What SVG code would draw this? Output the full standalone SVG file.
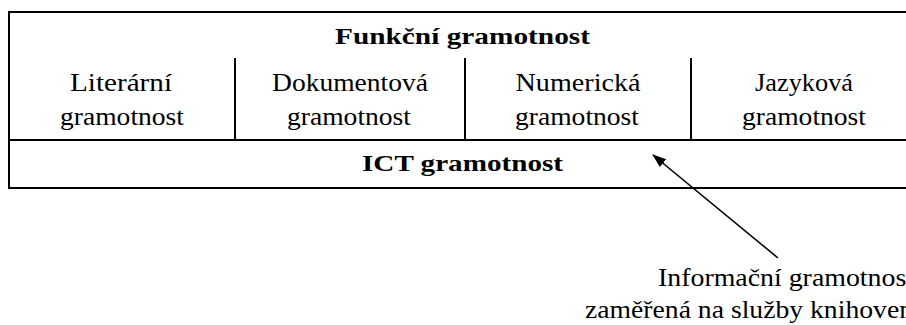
<svg xmlns="http://www.w3.org/2000/svg" width="906" height="325" viewBox="0 0 906 325">
<style>
.t{font-size:26px;fill:#000}
.b{font-size:24px;font-weight:bold;fill:#000}
.ln{stroke:#000;stroke-width:2;fill:none}
</style>
<defs>
<marker id="ah" markerWidth="14" markerHeight="10" refX="13" refY="5" orient="auto" markerUnits="userSpaceOnUse">
<path d="M0,0 L14,5 L0,10 Z" fill="#000"/>
</marker>
</defs>
<g font-family="Liberation Serif, Times New Roman, Times, DejaVu Serif, serif">
<g id="funkcni">
<rect class="ln" x="9" y="12" width="908" height="176"/>
<text class="b" x="462.5" y="44" text-anchor="middle" textLength="255" lengthAdjust="spacingAndGlyphs">Funkční gramotnost</text>
</g>
<g id="literarni">
<line class="ln" x1="235" y1="58" x2="235" y2="140"/>
<text class="t" x="121" y="91" text-anchor="middle" textLength="102" lengthAdjust="spacingAndGlyphs">Literární</text>
<text class="t" x="122" y="125" text-anchor="middle" textLength="124" lengthAdjust="spacingAndGlyphs">gramotnost</text>
</g>
<g id="dokumentova">
<line class="ln" x1="465" y1="58" x2="465" y2="140"/>
<text class="t" x="350" y="91" text-anchor="middle" textLength="156" lengthAdjust="spacingAndGlyphs">Dokumentová</text>
<text class="t" x="349" y="125" text-anchor="middle" textLength="124" lengthAdjust="spacingAndGlyphs">gramotnost</text>
</g>
<g id="numericka">
<line class="ln" x1="691" y1="58" x2="691" y2="140"/>
<text class="t" x="578" y="91" text-anchor="middle" textLength="125" lengthAdjust="spacingAndGlyphs">Numerická</text>
<text class="t" x="577" y="125" text-anchor="middle" textLength="124" lengthAdjust="spacingAndGlyphs">gramotnost</text>
</g>
<g id="jazykova">
<text class="t" x="804" y="91" text-anchor="middle" textLength="98" lengthAdjust="spacingAndGlyphs">Jazyková</text>
<text class="t" x="804" y="125" text-anchor="middle" textLength="124" lengthAdjust="spacingAndGlyphs">gramotnost</text>
</g>
<g id="ict">
<line class="ln" x1="9" y1="140" x2="917" y2="140"/>
<text class="b" x="462.5" y="171" text-anchor="middle" textLength="201" lengthAdjust="spacingAndGlyphs">ICT gramotnost</text>
</g>
<g id="informacni">
<text class="t" x="658" y="286" textLength="256" lengthAdjust="spacingAndGlyphs">Informační gramotnost</text>
<text class="t" x="585" y="318" textLength="328" lengthAdjust="spacingAndGlyphs">zaměřená na služby knihoven</text>
</g>
</g>
<g id="connectors">
<line x1="778" y1="258" x2="653" y2="155" stroke="#000" stroke-width="1.6" marker-end="url(#ah)"/>
</g>
</svg>
